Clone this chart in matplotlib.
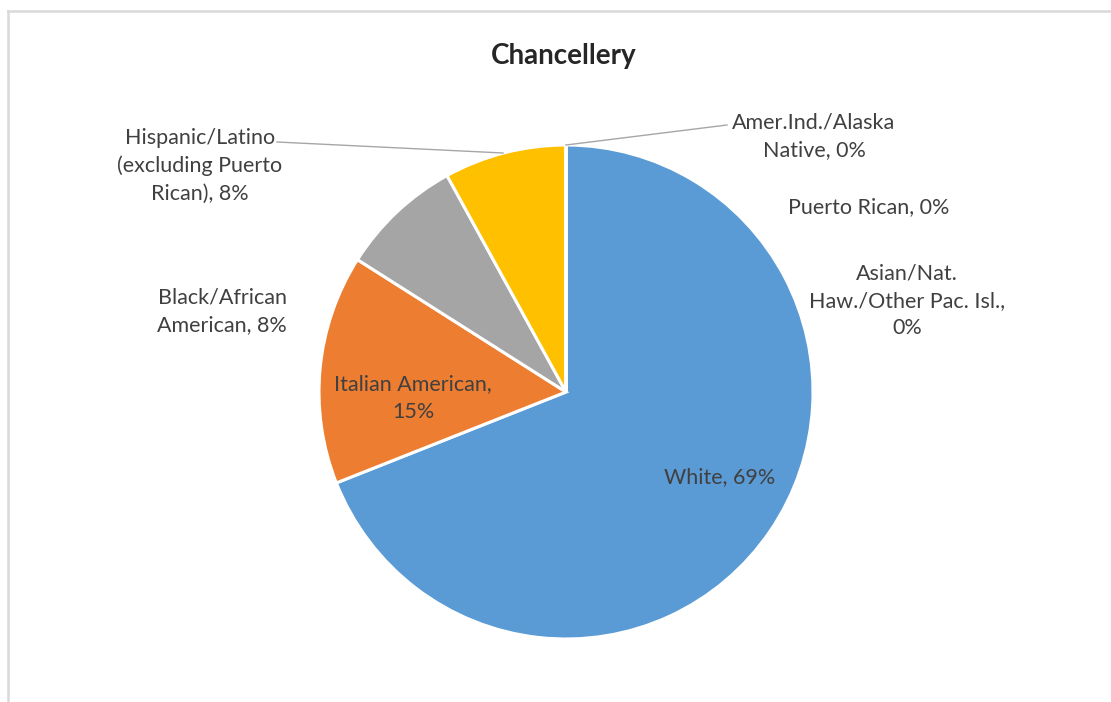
import matplotlib.pyplot as plt
from matplotlib.lines import Line2D

# data (percent shares)
categories = ['White', 'Italian American', 'Black/African American',
              'Hispanic/Latino (excluding Puerto Rican)', 'Amer.Ind./Alaska Native',
              'Puerto Rican', 'Asian/Nat. Haw./Other Pac. Isl.']
shares = [69, 15, 8, 8, 0, 0, 0]
colors = ['#5B9BD5', '#ED7D31', '#A5A5A5', '#FFC000', '#4472C4', '#70AD47', '#264478']

label_texts = ['White, 69%', 'Italian American,\n15%', 'Black/African\nAmerican, 8%',
               'Hispanic/Latino\n(excluding Puerto\nRican), 8%', 'Amer.Ind./Alaska\nNative, 0%',
               'Puerto Rican, 0%', 'Asian/Nat.\nHaw./Other Pac. Isl.,\n0%']
# label centres in pixel coords (x, y from top)
label_pos = [(720, 477), (413, 398), (222, 311), (200, 166), (814, 136), (869, 207), (907, 301)]

W, H = 1111, 702
fig = plt.figure(figsize=(W / 100, H / 100), dpi=100)
ax = fig.add_axes([0, 0, 1, 1])

cx, cy, r = 566, H - 392, 247
ax.pie(shares, colors=colors, startangle=90, counterclock=False,
       center=(cx, cy), radius=r, frame=True,
       wedgeprops=dict(edgecolor='white', linewidth=2.2))
ax.set_xlim(0, W)
ax.set_ylim(0, H)
ax.set_aspect('equal')
ax.axis('off')

txt = '#404040'
for lab, (x, y) in zip(label_texts, label_pos):
    ax.text(x, H - y, lab, ha='center', va='center', fontsize=15.5, family='Lato',
            color=txt, linespacing=1.45)

# leader lines
ax.plot([277, 503], [H - 142, H - 153], color='#A6A6A6', lw=1)
ax.plot([566, 727], [H - 145, H - 125], color='#A6A6A6', lw=1)

ax.text(564, H - 56, 'Chancellery', ha='center', va='center', fontsize=20,
        family='Lato', fontweight='bold', color='#262626')

# chart frame (top and left edges visible)
fig.add_artist(Line2D([8 / W, 1], [1 - 11 / H, 1 - 11 / H], color='#D9D9D9', lw=1.8))
fig.add_artist(Line2D([8 / W, 8 / W], [0, 1 - 11 / H], color='#D9D9D9', lw=1.8))

fig.savefig('out.png', dpi=100, facecolor='white')
